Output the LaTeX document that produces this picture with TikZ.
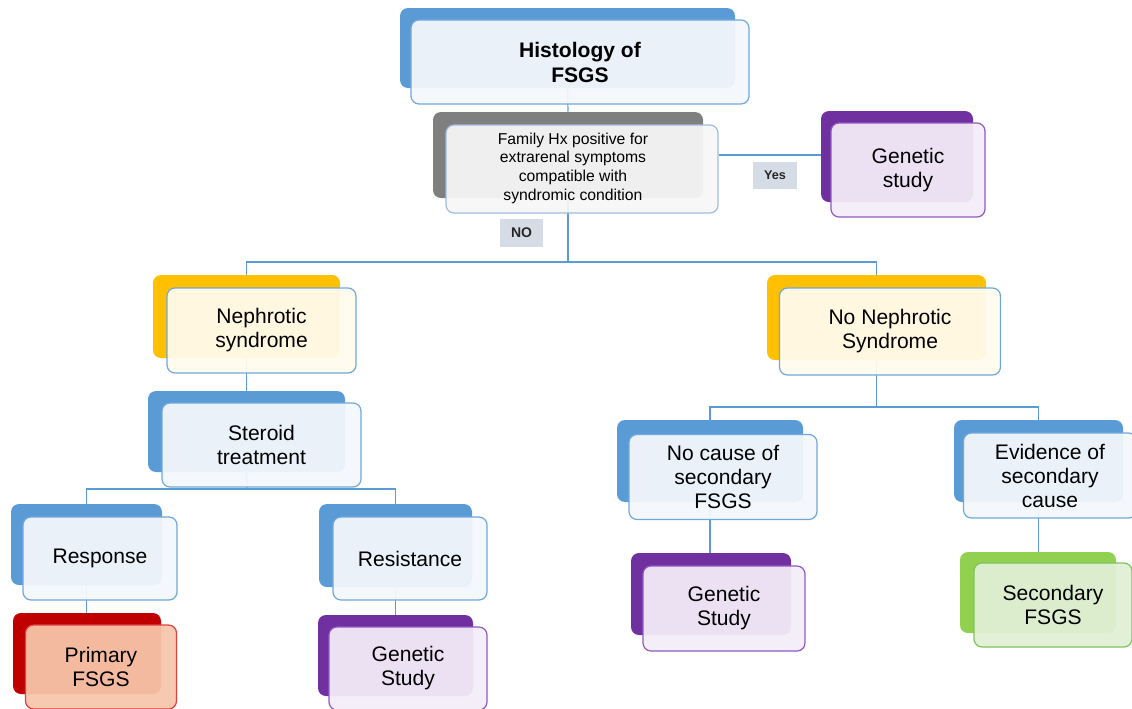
\documentclass[tikz,border=0pt]{standalone}
\usepackage{fontspec}
\setmainfont{Liberation Sans}
\usetikzlibrary{backgrounds}
\definecolor{cblue}{HTML}{5B9BD5}
\definecolor{bblue}{HTML}{6FA8DC}
\definecolor{fblue}{HTML}{F3F7FC}
\definecolor{cgray}{HTML}{7F7F7F}
\definecolor{bgray}{HTML}{9FBCE0}
\definecolor{fgray}{HTML}{F6F6F6}
\definecolor{cyellow}{HTML}{FFC000}
\definecolor{fyellow}{HTML}{FFFBEE}
\definecolor{cpurple}{HTML}{7030A0}
\definecolor{bpurple}{HTML}{9258C2}
\definecolor{fpurple}{HTML}{F3EDF8}
\definecolor{cred}{HTML}{C00000}
\definecolor{bred}{HTML}{E04040}
\definecolor{fred}{HTML}{F7C6AB}
\definecolor{cgreen}{HTML}{92D050}
\definecolor{bgreen}{HTML}{7FC35C}
\definecolor{fgreen}{HTML}{E0EFD5}
\definecolor{tagbg}{HTML}{D6DCE5}
\newcommand\mainfs{\fontsize{15.8}{18}\selectfont}
\newcommand\boldfs{\fontsize{15.8}{18.75}\selectfont\bfseries}
\newcommand\smallfs{\fontsize{11.8}{14}\selectfont}
\tikzset{
  sz/.style 2 args={minimum width=#1*0.75pt, minimum height=#2*0.75pt},
  backbox/.style={rounded corners=6pt, inner sep=0pt, draw=none},
  frontbox/.style={rounded corners=6pt, inner sep=0pt, line width=0.9pt,
    fill opacity=0.94, text opacity=1, align=center, font=\mainfs},
  conn/.style={draw=cblue, line width=0.9pt},
  tagbox/.style={fill=tagbg, inner sep=0pt, text=black!85}
}
\begin{document}
\begin{tikzpicture}[x=0.75pt, y=-0.75pt]
\useasboundingbox (0,0) rectangle (1132,708);
\clip (0,0) rectangle (1132,708);

% Histology
\node[backbox, fill=cblue, sz={335}{80}] (histb) at (567.5,48) {};
\node[frontbox, draw=bblue, fill=fblue, sz={338}{84}, font=\boldfs] (hist) at (580,62) {Histology of\\FSGS};

% Family Hx
\node[backbox, fill=cgray, sz={270}{86}] (famb) at (568,155) {};
\node[frontbox, draw=bgray, fill=fgray, sz={272}{88}] (fam) at (582,169) {};
\node[font=\smallfs, align=center, inner sep=0pt] (famtxt) at (573,168) {Family Hx positive for\\extrarenal symptoms\\compatible with\\syndromic condition};

% Genetic study (top)
\node[backbox, fill=cpurple, sz={152}{91}] (gtb) at (897,156.5) {};
\node[frontbox, draw=bpurple, fill=fpurple, sz={154}{94}] (gt) at (908,170) {Genetic\\study};

% tags
\node[tagbox, sz={44}{27}, font=\bfseries\fontsize{9.5}{11}\selectfont] (yes) at (775,175.5) {Yes};
\node[tagbox, sz={43}{28}, font=\bfseries\fontsize{10.5}{12}\selectfont] (no) at (521.5,233) {NO};

% Nephrotic syndrome
\node[backbox, fill=cyellow, sz={187}{83}] (nephb) at (246.5,316.5) {};
\node[frontbox, draw=bblue, fill=fyellow, sz={189}{85}] (neph) at (261.5,330.5) {Nephrotic\\syndrome};

% Steroid treatment
\node[backbox, fill=cblue, sz={197}{81}] (stb) at (246.5,431.5) {};
\node[frontbox, draw=bblue, fill=fblue, sz={199}{84}] (st) at (261.5,445) {Steroid\\treatment};

% No Nephrotic Syndrome
\node[backbox, fill=cyellow, sz={219}{85}] (nnb) at (876.5,317.5) {};
\node[frontbox, draw=bblue, fill=fyellow, sz={221}{87}] (nn) at (890,331.5) {No Nephrotic\\Syndrome};

% Response
\node[backbox, fill=cblue, sz={151}{81}] (respb) at (86.5,544.5) {};
\node[frontbox, draw=bblue, fill=fblue, sz={154}{83}] (resp) at (100,558.5) {Response};

% Resistance
\node[backbox, fill=cblue, sz={153}{83}] (resb) at (395.5,545.5) {};
\node[frontbox, draw=bblue, fill=fblue, sz={154}{83}] (res) at (410,558.5) {Resistance};

% Primary FSGS
\node[backbox, fill=cred, sz={148}{81}] (primb) at (87,653.5) {};
\node[frontbox, draw=bred, fill=fred, sz={151}{84}] (prim) at (101,667) {Primary\\FSGS};

% Genetic Study (left)
\node[backbox, fill=cpurple, sz={155}{81}] (glb) at (395.5,655.5) {};
\node[frontbox, draw=bpurple, fill=fpurple, sz={158}{83}] (gl) at (408,668.5) {Genetic\\Study};

% No cause of secondary FSGS
\node[backbox, fill=cblue, sz={186}{82}] (ncb) at (710,461) {};
\node[frontbox, draw=bblue, fill=fblue, sz={188}{85}] (nc) at (723,477) {No cause of\\secondary\\FSGS};

% Genetic Study (right)
\node[backbox, fill=cpurple, sz={160}{82}] (grb) at (711,594) {};
\node[frontbox, draw=bpurple, fill=fpurple, sz={162}{85}] (gr) at (724,608.5) {Genetic\\Study};

% Evidence of secondary cause
\node[backbox, fill=cblue, sz={169}{82}] (evb) at (1038.5,461) {};
\node[frontbox, draw=bblue, fill=fblue, sz={173}{85}] (ev) at (1050,475.5) {Evidence of\\secondary\\cause};

% Secondary FSGS
\node[backbox, fill=cgreen, sz={156}{81}] (secb) at (1038,592.5) {};
\node[frontbox, draw=bgreen, fill=fgreen, sz={158}{84}] (sec) at (1053,605) {Secondary\\FSGS};

\begin{pgfonlayer}{background}
  \coordinate (j1) at (568,262);
  \coordinate (j2) at (247,489);
  \coordinate (j3) at (876.5,407);
  \draw[conn] (histb.south) -- (famb.north);
  \draw[conn] (famb.south) -- (j1);
  \draw[conn] (j1) -| (nephb.north);
  \draw[conn] (j1) -| (nnb.north);
  \draw[conn] (fam.east |- famb.east) -- (gtb.west |- famb.east);
  \draw[conn] (nephb.south) -- (stb.north);
  \draw[conn] (stb.south) -- (j2);
  \draw[conn] (j2) -| (respb.north);
  \draw[conn] (j2) -| (resb.north);
  \draw[conn] (respb.south) -- (respb.south |- primb.north);
  \draw[conn] (resb.south) -- (resb.south |- glb.north);
  \draw[conn] (nnb.south) -- (j3);
  \draw[conn] (j3) -| (ncb.north);
  \draw[conn] (j3) -| (evb.north);
  \draw[conn] (ncb.south) -- (ncb.south |- grb.north);
  \draw[conn] (evb.south) -- (evb.south |- secb.north);
\end{pgfonlayer}
\end{tikzpicture}
\end{document}
